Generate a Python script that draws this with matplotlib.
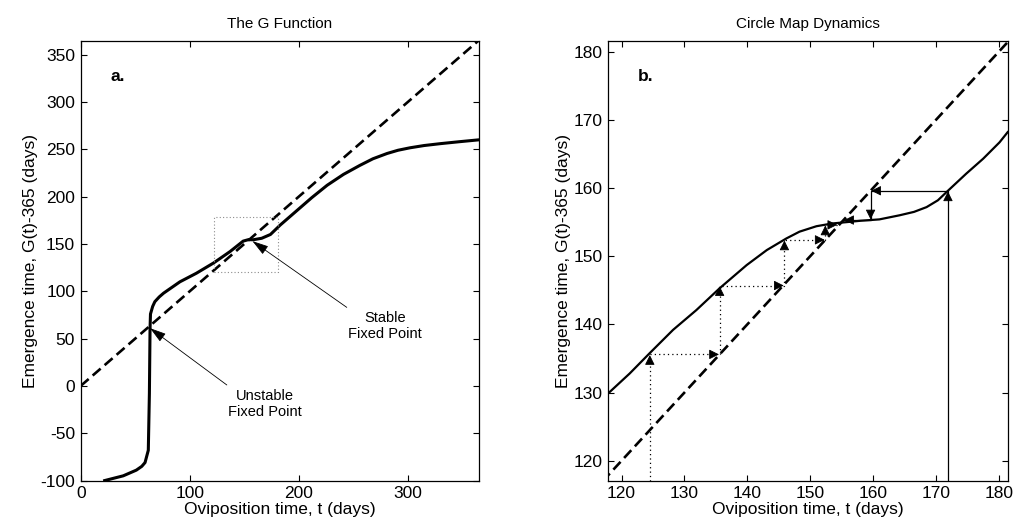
"""
Two-panel figure: the G function and its circle-map (cobweb) dynamics.
"""
import matplotlib
matplotlib.use("Agg")
import matplotlib.pyplot as plt

plt.rcParams["font.family"] = ["Liberation Sans", "DejaVu Sans"]
plt.rcParams["axes.unicode_minus"] = False

# --- panel a: G(t) - 365 over the whole year ---
left_t = [22, 39, 51, 56, 59, 62, 63, 63.6, 64, 66, 68, 72, 76, 91, 106, 122,
          137, 149, 154, 158, 166, 174, 183, 197, 212, 226, 241, 256, 268, 281,
          291, 302, 315, 330, 347, 365]
left_g = [-100, -95, -89, -85, -81, -68, -8, 61, 76, 84, 89, 94, 98, 110, 119,
          130, 142, 153, 154.6, 154.4, 156, 160, 170, 184, 199, 212, 223.5, 233,
          240, 245.6, 249, 251.6, 254, 256, 258, 260]
left_diag = [0, 365]
zoom_box_t = [122, 181]
zoom_box_g = [120, 179]
unstable_tip = (63.6, 61)
unstable_tail = (134, 1)
unstable_text = (169, -19.5)
stable_tip = (157.5, 153)
stable_tail = (244, 83)
stable_text = (279, 63.7)

# --- panel b: zoom of the curve around the stable fixed point ---
right_t = [117.9, 121.3, 124.5, 128.2, 131.9, 135.6, 139.9, 143.1, 146.2,
           148.3, 151, 153.5, 155.8, 158, 161, 164.2, 166.5, 168.5, 170.3,
           171.9, 174.8, 177.5, 180.1, 181.4]
right_g = [129.9, 132.8, 135.8, 139.2, 142.1, 145.3, 148.7, 150.9, 152.6,
           153.6, 154.4, 154.8, 155.0, 155.2, 155.4, 156.0, 156.5, 157.2, 158.2,
           159.6, 162.1, 164.3, 166.7, 168.2]
right_diag = [117, 182]

# cobweb iterations (dotted from below, solid from above)
cob_low_t = [124.5, 124.5, 135.6, 135.6, 145.9, 145.9, 152.4, 152.4, 154.4]
cob_low_g = [117.1, 135.6, 135.6, 145.7, 145.7, 152.4, 152.4, 154.6, 154.6]
cob_high_t = [171.9, 171.9, 159.6, 159.6, 155.3]
cob_high_g = [117.1, 159.6, 159.6, 155.3, 155.3]

DASH = (0, (4, 2))


def style_axes(ax):
    ax.tick_params(direction="in", length=4, width=0.8, top=True, right=True,
                   labelsize=12.5, pad=4)
    for s in ax.spines.values():
        s.set_linewidth(0.9)


def heads(ax, xs, ys):
    for i in range(len(xs) - 1):
        x0, y0, x1, y1 = xs[i], ys[i], xs[i + 1], ys[i + 1]
        dx, dy = x1 - x0, y1 - y0
        n = (dx ** 2 + dy ** 2) ** 0.5
        if n == 0:
            continue
        ax.annotate("", xy=(x1, y1),
                    xytext=(-6 * dx / n, -6 * dy / n), textcoords="offset points",
                    arrowprops=dict(arrowstyle="-|>,head_length=0.6,head_width=0.3",
                                    color="k", lw=0.6, shrinkA=0, shrinkB=0.5))


fig = plt.figure(figsize=(10.16, 5.31), dpi=100)
ax1 = fig.add_axes([80.7 / 1016, 0.095, 398 / 1016, 0.827])
ax2 = fig.add_axes([608.3 / 1016, 0.095, 399.4 / 1016, 0.827])

# panel a
ax1.plot(left_diag, left_diag, color="k", lw=1.9, linestyle=DASH)
ax1.plot(left_t, left_g, color="k", lw=2.2, solid_joinstyle="round")
ax1.plot([zoom_box_t[0], zoom_box_t[1], zoom_box_t[1], zoom_box_t[0], zoom_box_t[0]],
         [zoom_box_g[0], zoom_box_g[0], zoom_box_g[1], zoom_box_g[1], zoom_box_g[0]],
         color="0.55", lw=0.8, linestyle=(0, (1, 2)))
arrow_kw = dict(arrowstyle="-|>,head_length=1.0,head_width=0.3", color="k",
                lw=0.6, shrinkA=0, shrinkB=0)
ax1.annotate("", xy=unstable_tip, xytext=unstable_tail, arrowprops=arrow_kw)
ax1.annotate("", xy=stable_tip, xytext=stable_tail, arrowprops=arrow_kw)
ax1.text(*unstable_text, "Unstable\nFixed Point", ha="center", va="center",
         fontsize=10.5, linespacing=1.2)
ax1.text(*stable_text, "Stable\nFixed Point", ha="center", va="center",
         fontsize=10.5, linespacing=1.2)
ax1.text(0.094, 0.92, "a.", transform=ax1.transAxes, fontsize=12.5,
         fontweight="bold", ha="center", va="center")
ax1.set_xlim(0, 365)
ax1.set_ylim(-100, 364)
ax1.set_xticks([0, 100, 200, 300])
ax1.set_yticks(range(-100, 351, 50))
ax1.set_title("The G Function", fontsize=11, pad=10)
ax1.set_xlabel("Oviposition time, t (days)", fontsize=12.5, labelpad=1)
ax1.set_ylabel("Emergence time, G(t)-365 (days)", fontsize=12.5, labelpad=2)
style_axes(ax1)

# panel b
ax2.plot(right_diag, right_diag, color="k", lw=1.9, linestyle=DASH)
ax2.plot(right_t, right_g, color="k", lw=1.6, solid_joinstyle="round")
ax2.plot(cob_low_t, cob_low_g, color="k", lw=0.9, linestyle=(0, (1, 2.5)))
ax2.plot(cob_high_t, cob_high_g, color="k", lw=0.9)
heads(ax2, cob_low_t, cob_low_g)
heads(ax2, cob_high_t, cob_high_g)
ax2.text(0.094, 0.92, "b.", transform=ax2.transAxes, fontsize=12.5,
         fontweight="bold", ha="center", va="center")
ax2.set_xlim(117.9, 181.4)
ax2.set_ylim(117.1, 181.5)
ax2.set_xticks(range(120, 181, 10))
ax2.set_yticks(range(120, 181, 10))
ax2.set_title("Circle Map Dynamics", fontsize=11, pad=10)
ax2.set_xlabel("Oviposition time, t (days)", fontsize=12.5, labelpad=1)
ax2.set_ylabel("Emergence time, G(t)-365 (days)", fontsize=12.5, labelpad=2)
style_axes(ax2)

fig.savefig("out.png", dpi=100)
